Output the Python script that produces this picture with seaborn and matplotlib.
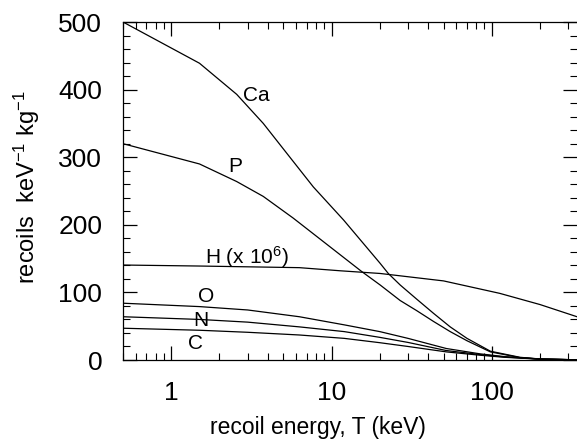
import numpy as np
import pandas as pd
import seaborn as sns
import matplotlib.pyplot as plt
from matplotlib.ticker import FixedLocator, MultipleLocator, NullFormatter

# recoil spectra (energy in keV, recoils keV^-1 kg^-1)
ca_T = [0.5, 1.5, 2.56, 3.75, 5.25, 7.7, 11.9, 20.1, 22.6, 26.8, 34, 43.3, 55, 70, 98, 150, 200, 340]
ca_R = [500, 439, 393, 350, 306, 256, 207, 143, 128, 111, 90, 69, 49, 32, 13, 4, 1.5, 0.3]

p_T = [0.5, 1.5, 2.56, 3.75, 5.76, 15.4, 20.1, 26.8, 34, 43.3, 55, 70, 98, 150, 200, 340]
p_R = [320, 290, 264, 242, 210, 131, 111, 88, 73, 57, 42, 28.5, 12, 3.5, 1.3, 0.3]

h_T = [0.5, 1.5, 6.3, 11.3, 20.1, 50, 112, 200, 340]
h_R = [140.5, 139, 136.6, 132, 128, 117, 98.6, 82, 64]

o_T = [0.5, 1.5, 3, 6.3, 12, 20, 30, 52, 85, 120, 200, 340]
o_R = [84, 79, 74, 64, 52, 42, 32, 17, 9, 5, 1.5, 0.3]

n_T = [0.5, 1.5, 3, 6.3, 12, 20, 30, 52, 85, 120, 200, 340]
n_R = [64, 60, 56, 49, 42, 33.5, 26, 14, 8, 4.5, 1.3, 0.3]

c_T = [0.5, 1.5, 3, 6.3, 12, 20, 30, 52, 85, 120, 200, 340]
c_R = [47, 44, 41, 37, 32, 25.6, 20, 12, 7, 4, 1.2, 0.3]

series = {"Ca": (ca_T, ca_R), "P": (p_T, p_R), "H": (h_T, h_R),
          "O": (o_T, o_R), "N": (n_T, n_R), "C": (c_T, c_R)}

labels = ["Ca", "P", "H (x 10$^6$)", "O", "N", "C"]
label_x = [3.4, 2.5, 1.62, 1.66, 1.54, 1.42]
label_y = [392, 286, 153, 94, 59, 24]

sns.set_theme(style="ticks")
plt.rcParams["font.family"] = ["Liberation Sans", "DejaVu Sans"]
plt.rcParams["mathtext.fontset"] = "custom"
plt.rcParams["mathtext.rm"] = "Liberation Sans"
plt.rcParams["mathtext.default"] = "regular"
plt.rcParams["text.color"] = "black"
plt.rcParams["axes.labelcolor"] = "black"

fig = plt.figure(figsize=(5.77, 4.4), dpi=100)
ax = fig.add_axes([123 / 577, 80 / 440, 1 - 123 / 577, 338 / 440])

frames = []
for name, (t, r) in series.items():
    frames.append(pd.DataFrame({"T": t, "R": r, "el": name}))
data = pd.concat(frames, ignore_index=True)

sns.lineplot(data=data, x="T", y="R", units="el", estimator=None,
             color="black", linewidth=0.9, sort=True, ax=ax)

ax.set_xscale("log")
ax.set_xlim(0.5, 340)
ax.set_ylim(0, 500)

for lab, lx, ly in zip(labels, label_x, label_y):
    ax.text(lx, ly, lab, fontsize=15, ha="left" if lab.startswith("H") else "center",
            va="center", color="black")

ax.set_xticks([1, 10, 100])
ax.set_xticklabels(["1", "10", "100"])
ax.xaxis.set_minor_locator(FixedLocator(
    [m * 10 ** e for e in (-1, 0, 1, 2) for m in range(2, 10)]))
ax.xaxis.set_minor_formatter(NullFormatter())
ax.yaxis.set_major_locator(MultipleLocator(100))
ax.yaxis.set_minor_locator(MultipleLocator(20))

ax.tick_params(which="both", direction="in", top=True, right=True, colors="black",
               labelsize=19)
ax.tick_params(axis="x", which="major", pad=15)
ax.tick_params(axis="y", which="major", pad=15)
ax.tick_params(which="major", length=10, width=0.9)
ax.tick_params(which="minor", length=5, width=0.8)

for side in ["left", "bottom", "top"]:
    ax.spines[side].set_color("black")
    ax.spines[side].set_linewidth(0.9)
ax.spines["right"].set_visible(False)

ax.set_xlabel("recoil energy, T (keV)", fontsize=16.5, color="black",
              va="center", ha="center")
ax.set_ylabel("recoils  keV$^{-1}$ kg$^{-1}$", fontsize=17, color="black",
              va="center", ha="center")
ax.xaxis.set_label_coords(0.43, -(427 - 360) / 338)
ax.yaxis.set_label_coords(-(123 - 27) / 454, 0.51)

fig.savefig("out.png", dpi=100)
